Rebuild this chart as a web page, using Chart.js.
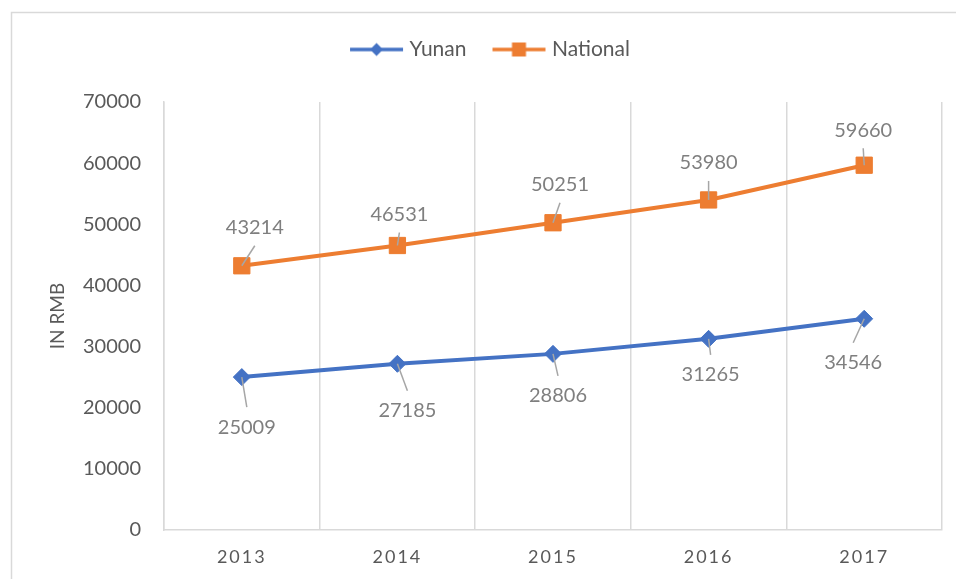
<!DOCTYPE html>
<html>
<head>
<meta charset="utf-8">
<script src="https://cdn.jsdelivr.net/npm/chart.js@4/dist/chart.umd.min.js"></script>
<style>
  html, body { margin: 0; padding: 0; background: #ffffff; }
  #wrap { width: 956px; height: 579px; }
</style>
</head>
<body>
<div id="wrap"><canvas id="c" width="956" height="579"></canvas></div>
<script>
// Average annual wage, Yunnan vs. national (RMB)
const years = ['2013', '2014', '2015', '2016', '2017'];
const yunan = [25009, 27185, 28806, 31265, 34546];
const national = [43214, 46531, 50251, 53980, 59660];
const yMin = 0;
const yMax = 70000;
const yStep = 10000;

const BLUE = '#4472C4';
const ORANGE = '#ED7D31';
const TEXT = '#595959';
const GRID = '#d9d9d9';
const FONT = 'Lato, "Open Sans", sans-serif';

// Legend swatch: short line with the series marker in the middle
function legendMark(color, shape, r) {
  const c = document.createElement('canvas');
  c.width = 55; c.height = 20;
  const g = c.getContext('2d');
  g.strokeStyle = color; g.lineWidth = 3.5;
  g.beginPath(); g.moveTo(1, 10); g.lineTo(54, 10); g.stroke();
  g.fillStyle = color;
  if (shape === 'diamond') {
    g.beginPath();
    g.moveTo(27.5, 10 - r); g.lineTo(27.5 + r, 10); g.lineTo(27.5, 10 + r); g.lineTo(27.5 - r, 10);
    g.closePath(); g.fill();
  } else {
    g.fillRect(27.5 - r, 10 - r, 2 * r, 2 * r);
  }
  return c;
}
const legendMarks = [legendMark(BLUE, 'diamond', 6.5), legendMark(ORANGE, 'square', 7)];

// White background and the thin outer frame
const framePlugin = {
  id: 'frame',
  beforeDraw(chart) {
    const ctx = chart.ctx;
    ctx.save();
    ctx.fillStyle = '#ffffff';
    ctx.fillRect(0, 0, chart.width, chart.height);
    ctx.strokeStyle = GRID;
    ctx.lineWidth = 1.5;
    ctx.strokeRect(11.5, 12.5, chart.width + 20, chart.height + 20);
    ctx.restore();
  }
};

// Fixed legend band height so the plot starts at the same place
const legendBandPlugin = {
  id: 'legendBand',
  beforeInit(chart, args, opts) {
    const lg = chart.legend;
    if (!lg) return;
    const fit = lg.fit.bind(lg);
    lg.fit = function () { fit(); this.height = opts.height; };
  }
};

// Spaced-out year labels on the category axis
const spacedTicksPlugin = {
  id: 'spacedTicks',
  afterLayout(chart, args, opts) {
    const s = chart.scales.x;
    if (!s || s._spaced) return;
    const draw = s.drawLabels.bind(s);
    s.drawLabels = function (area) {
      const c = this.ctx;
      const prev = c.letterSpacing;
      c.letterSpacing = opts.spacing;
      draw(area);
      c.letterSpacing = prev;
    };
    s._spaced = true;
  }
};

// Value labels with short leader lines back to each point
const valueLabelPlugin = {
  id: 'valueLabels',
  afterDatasetsDraw(chart, args, opts) {
    const ctx = chart.ctx;
    chart.data.datasets.forEach((ds, di) => {
      const meta = chart.getDatasetMeta(di);
      const offs = opts.offsets[di];
      meta.data.forEach((pt, i) => {
        const dx = offs[i][0], dy = offs[i][1];
        const lx = pt.x + dx, ly = pt.y + dy;
        const ay = ly + (dy < 0 ? 18 : -20);
        ctx.save();
        ctx.strokeStyle = '#a6a6a6';
        ctx.lineWidth = 1.5;
        ctx.beginPath();
        ctx.moveTo(pt.x, pt.y);
        ctx.lineTo(lx, ay);
        ctx.stroke();
        ctx.fillStyle = '#7f7f7f';
        ctx.font = '20px ' + FONT;
        ctx.textAlign = 'center';
        ctx.textBaseline = 'middle';
        ctx.fillText(String(ds.data[i]), lx, ly);
        ctx.restore();
      });
    });
  }
};

new Chart(document.getElementById('c'), {
  type: 'line',
  data: {
    labels: years,
    datasets: [
      {
        label: 'Yunan',
        data: yunan,
        borderColor: BLUE,
        backgroundColor: BLUE,
        borderWidth: 4,
        pointStyle: 'rectRot',
        pointRadius: 8.5,
        pointBorderWidth: 1,
        pointBackgroundColor: BLUE,
        pointBorderColor: BLUE,
        tension: 0
      },
      {
        label: 'National',
        data: national,
        borderColor: ORANGE,
        backgroundColor: ORANGE,
        borderWidth: 4,
        pointStyle: 'rect',
        pointRadius: 11.5,
        pointBorderWidth: 1,
        pointBackgroundColor: ORANGE,
        pointBorderColor: ORANGE,
        tension: 0
      }
    ]
  },
  options: {
    responsive: false,
    animation: false,
    devicePixelRatio: 1,
    layout: { padding: { left: 42, right: 14, top: 9, bottom: 0 } },
    plugins: {
      tooltip: { enabled: false },
      legendBand: { height: 93 },
      spacedTicks: { spacing: '2px' },
      valueLabels: {
        offsets: [
          [[5, 50], [10, 47], [5, 42], [2, 36], [-11, 44]],
          [[13, -38], [2, -31], [7, -38], [0, -37], [-1, -35]]
        ]
      },
      legend: {
        position: 'top',
        align: 'center',
        labels: {
          usePointStyle: true,
          pointStyleWidth: 45,
          padding: 30,
          color: TEXT,
          font: { family: FONT, size: 21 },
          generateLabels(chart) {
            return chart.data.datasets.map((ds, i) => ({
              text: ds.label,
              pointStyle: legendMarks[i],
              fillStyle: ds.borderColor,
              strokeStyle: ds.borderColor,
              lineWidth: 0,
              fontColor: TEXT,
              hidden: false,
              datasetIndex: i
            }));
          }
        }
      }
    },
    scales: {
      x: {
        offset: true,
        afterFit(s) { s.height = 49; },
        grid: { display: true, offset: true, drawTicks: false, color: GRID, lineWidth: 1.5 },
        border: { display: true, color: GRID, width: 1.5 },
        ticks: {
          color: TEXT,
          padding: 16,
          font: { family: FONT, size: 18 }
        }
      },
      y: {
        min: yMin,
        max: yMax,
        afterFit(s) { s.width = 122; },
        grid: { display: false, drawTicks: false },
        border: { display: true, color: GRID, width: 1.5 },
        ticks: {
          stepSize: yStep,
          color: TEXT,
          padding: 23,
          font: { family: FONT, size: 20 },
          callback: (v) => String(v)
        },
        title: {
          display: true,
          text: 'IN RMB',
          color: TEXT,
          padding: { top: 4, bottom: 0 },
          font: { family: FONT, size: 19 }
        }
      }
    }
  },
  plugins: [framePlugin, legendBandPlugin, spacedTicksPlugin, valueLabelPlugin]
});
</script>
</body>
</html>
